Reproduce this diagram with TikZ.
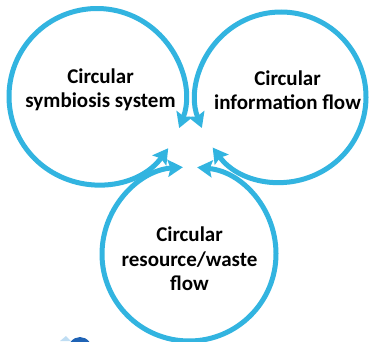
\documentclass[tikz,border=0pt]{standalone}
\usepackage{fontspec}
\setmainfont{Carlito}
\usetikzlibrary{arrows.meta}
\definecolor{cyc}{HTML}{32B4E0}
\definecolor{logodark}{HTML}{1F63B5}
\definecolor{logolight}{HTML}{BFDDF3}
\tikzset{
  cyclearc/.style={draw=cyc, line width=5pt,
    {Stealth[length=15pt,width=17pt,inset=2.5pt]}-{Stealth[length=15pt,width=17pt,inset=2.5pt]}},
  circlabel/.style={font=\fontsize{21}{24.5}\selectfont\bfseries, align=center, inner sep=0pt, text=black}
}
\begin{document}
\begin{tikzpicture}[x=1pt,y=1pt]
\useasboundingbox (0,0) rectangle (369,341);
\clip (0,0) rectangle (369,341);
\fill[white] (0,0) rectangle (369,341);
% circle centres
\coordinate (cL) at (97,244.5);
\coordinate (cR) at (281,244);
\coordinate (cB) at (189,87);
% circular arrows
\draw[cyclearc] (cL) ++(-36:88pt) arc[start angle=-36, end angle=-381, radius=88pt];
\draw[cyclearc] (cR) ++(216.5:85pt) arc[start angle=216.5, end angle=561.4, radius=85pt];
\draw[cyclearc] (cB) ++(444.6:87pt) arc[start angle=444.6, end angle=94, radius=87pt];
% labels
\node[circlabel] (tL) at (100.5,251) {Circular\\symbiosis system};
\node[circlabel] (tR) at (287.5,251) {Circular\\information flow};
\node[circlabel] (tB) at (189.5,82) {Circular\\resource/waste\\flow};
% logo fragment at the bottom edge
\fill[logolight] (60,0) -- (66,5) -- (71,0) -- cycle;
\fill[logodark] (80,-12) ellipse[x radius=13pt, y radius=16pt];
\end{tikzpicture}
\end{document}
